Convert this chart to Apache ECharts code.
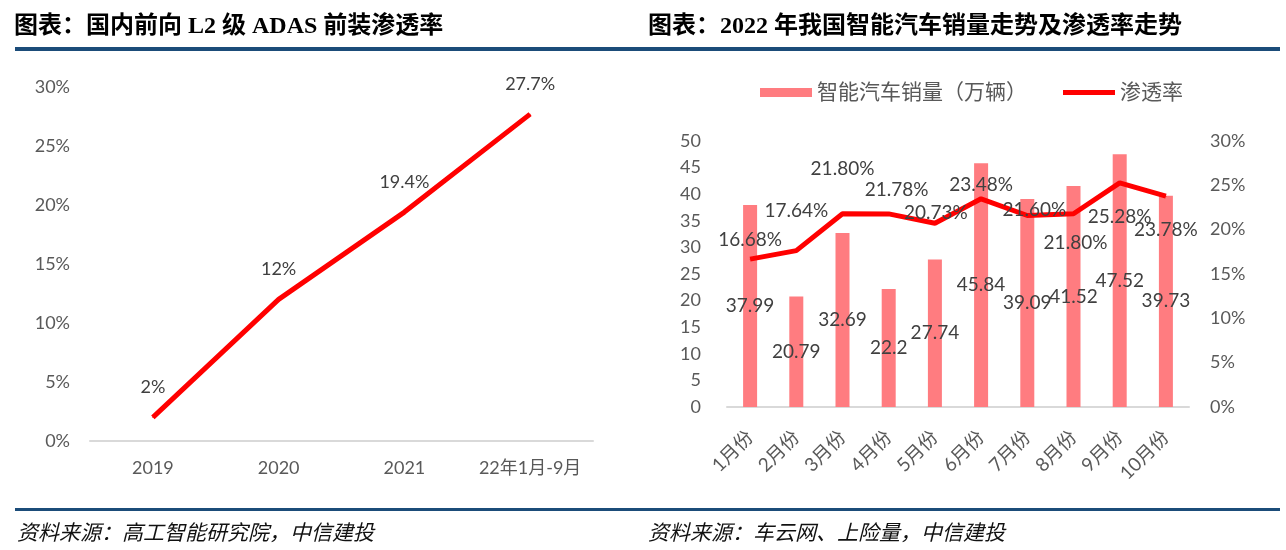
<!DOCTYPE html>
<html>
<head>
<meta charset="utf-8">
<script src="https://cdn.jsdelivr.net/npm/echarts@6/dist/echarts.min.js"></script>
<style>
html,body{margin:0;padding:0;background:#fff;}
#c{width:1286px;height:550px;}
</style>
</head>
<body>
<div id="c"></div>
<script>
// ---------- data ----------
var adasYears = ['2019', '2020', '2021', '22年1月-9月'];
var adasRate = [2, 12, 19.4, 27.7];
var adasTicks = ['0%', '5%', '10%', '15%', '20%', '25%', '30%'];

var months = ['1月份', '2月份', '3月份', '4月份', '5月份', '6月份', '7月份', '8月份', '9月份', '10月份'];
var smartSales = [37.99, 20.79, 32.69, 22.2, 27.74, 45.84, 39.09, 41.52, 47.52, 39.73];
var smartRate = [16.68, 17.64, 21.80, 21.78, 20.73, 23.48, 21.60, 21.80, 25.28, 23.78];

var titleLeft = '图表：国内前向 L2 级 ADAS 前装渗透率';
var titleRight = '图表：2022 年我国智能汽车销量走势及渗透率走势';
var sourceLeft = '资料来源：高工智能研究院，中信建投';
var sourceRight = '资料来源：车云网、上险量，中信建投';
var salesName = '智能汽车销量（万辆）';
var rateName = '渗透率';

// ---------- layout / style ----------
var rateLabelShift = [[0,-19],[0,-40],[0,-45],[8,-24],[1,-10],[0,-14],[7,-6],[2,29],[0,34],[0,34]];
var FONT = 'Lato, "Noto Sans CJK SC", sans-serif';
var TFONT = '"Liberation Serif", "Noto Sans CJK SC", serif';
var AX = '#595959', LB = '#404040', RED = '#ff0000', BAR = '#ff7c80', BLUE = '#1b4c79';

var chart = echarts.init(document.getElementById('c'));

var rateData = smartRate.map(function (v, i) {
  return { value: v, label: { offset: rateLabelShift[i] } };
});

var option = {
  animation: false,
  backgroundColor: '#fff',
  textStyle: { fontFamily: FONT },
  graphic: [
    { type: 'text', left: 14, top: 15, style: { text: titleLeft, font: 'bold 24px ' + TFONT, fill: '#000' } },
    { type: 'text', left: 648, top: 15, style: { text: titleRight, font: 'bold 24px ' + TFONT, fill: '#000' } },
    { type: 'rect', shape: { x: 15, y: 47, width: 1265, height: 4 }, style: { fill: BLUE } },
    { type: 'rect', shape: { x: 15, y: 508, width: 1265, height: 3 }, style: { fill: BLUE } },
    { type: 'text', left: 17, top: 522, style: { text: sourceLeft, font: 'italic 21px "Noto Sans CJK SC"', fill: '#111' } },
    { type: 'text', left: 648, top: 522, style: { text: sourceRight, font: 'italic 21px "Noto Sans CJK SC"', fill: '#111' } }
  ],
  legend: [
    { data: [{ name: salesName, icon: 'rect' }], left: 755, top: 77, itemWidth: 52, itemHeight: 9, itemGap: 5,
      textStyle: { fontSize: 21, color: AX, fontFamily: FONT } },
    { data: [{ name: rateName, icon: 'rect' }], left: 1058, top: 77, itemWidth: 52, itemHeight: 5, itemGap: 5,
      textStyle: { fontSize: 21, color: AX, fontFamily: FONT } }
  ],
  grid: [
    { left: 90, width: 503, top: 87, height: 354 },
    { left: 727, width: 462, top: 141, height: 266 }
  ],
  xAxis: [
    { gridIndex: 0, type: 'category', data: adasYears, boundaryGap: true,
      axisLine: { lineStyle: { color: '#d9d9d9', width: 2 } }, axisTick: { show: false },
      axisLabel: { color: AX, fontSize: 18, margin: 18, interval: 0 } },
    { gridIndex: 1, type: 'category', data: months, boundaryGap: true,
      axisLine: { lineStyle: { color: '#d9d9d9', width: 2 } }, axisTick: { show: false },
      axisLabel: { color: AX, fontSize: 19, rotate: 45, margin: 27, interval: 0 } }
  ],
  yAxis: [
    { gridIndex: 0, type: 'value', min: 0, max: 30, interval: 5,
      axisLine: { show: false }, axisTick: { show: false }, splitLine: { show: false },
      axisLabel: { color: AX, fontSize: 18, margin: 20, formatter: function (v) { return adasTicks[Math.round(v / 5)]; } } },
    { gridIndex: 1, type: 'value', min: 0, max: 50, interval: 5,
      axisLine: { show: false }, axisTick: { show: false }, splitLine: { show: false },
      axisLabel: { color: AX, fontSize: 18, margin: 26 } },
    { gridIndex: 1, type: 'value', position: 'right', min: 0, max: 30, interval: 5,
      axisLine: { show: false }, axisTick: { show: false }, splitLine: { show: false },
      axisLabel: { color: AX, fontSize: 18, margin: 21, formatter: '{value}%' } }
  ],
  series: [
    { type: 'line', xAxisIndex: 0, yAxisIndex: 0, data: adasRate,
      symbol: 'circle', symbolSize: 1, itemStyle: { color: RED },
      lineStyle: { color: RED, width: 5 },
      label: { show: true, position: 'inside', offset: [0, -30], color: LB, fontSize: 18,
        formatter: function (p) { return p.value + '%'; } } },
    { type: 'bar', name: salesName, xAxisIndex: 1, yAxisIndex: 1, data: smartSales, barWidth: 14,
      itemStyle: { color: BAR },
      label: { show: true, position: 'inside', color: LB, fontSize: 19 } },
    { type: 'line', name: rateName, xAxisIndex: 1, yAxisIndex: 2, data: rateData,
      symbol: 'circle', symbolSize: 1, itemStyle: { color: RED },
      lineStyle: { color: RED, width: 5 },
      label: { show: true, position: 'inside', color: LB, fontSize: 19,
        formatter: function (p) { return p.value.toFixed(2) + '%'; } } }
  ]
};
chart.setOption(option);
</script>
</body>
</html>
